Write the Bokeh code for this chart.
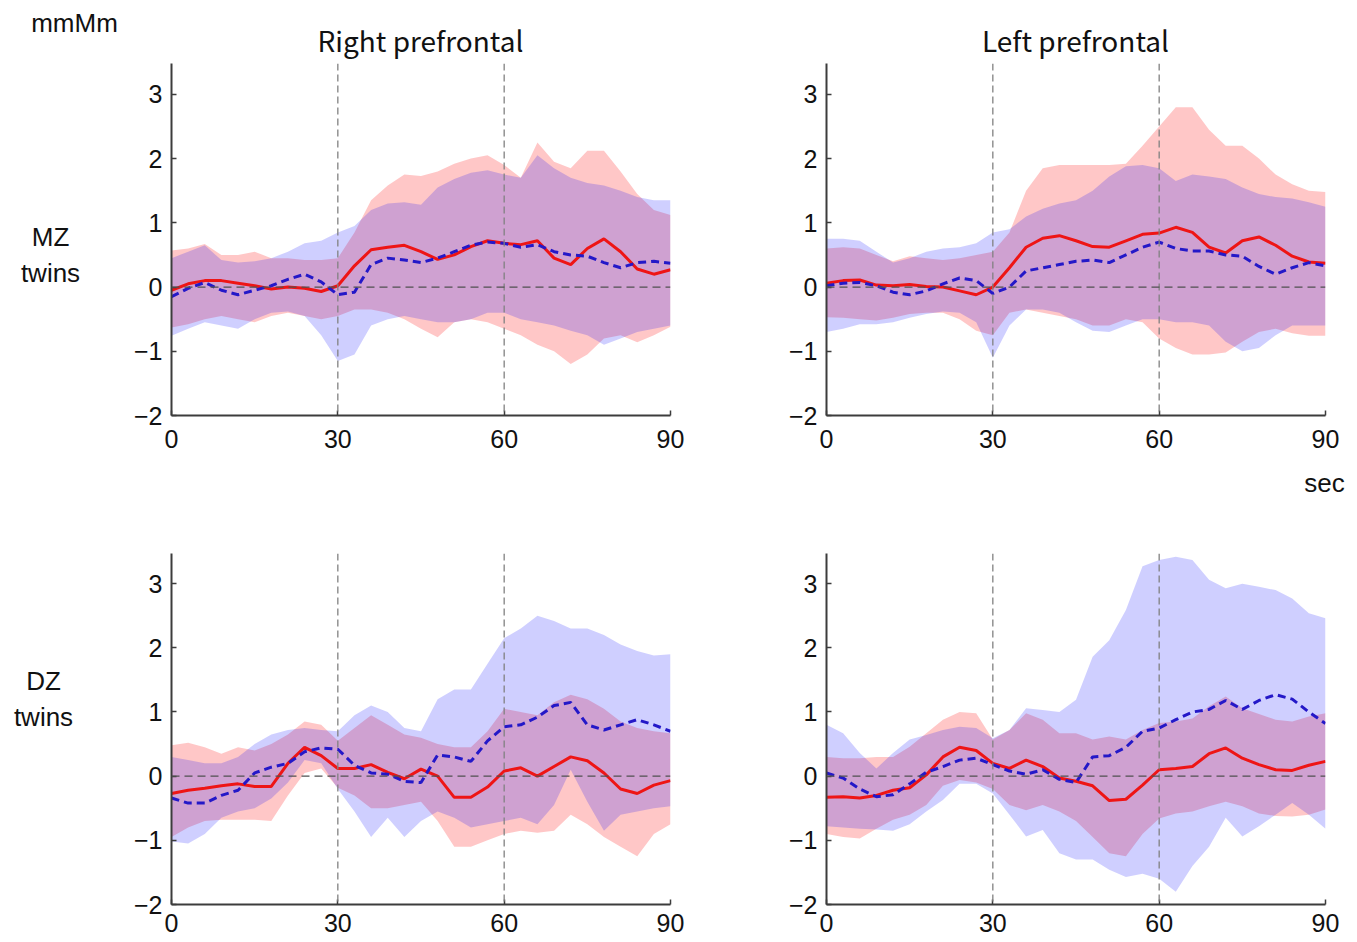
from bokeh.plotting import figure
from bokeh.layouts import column, row
from bokeh.models import Span, FixedTicker, Range1d
from bokeh.core.properties import value
from bokeh.embed import file_html
from bokeh.resources import INLINE

# time axis (seconds)
t = list(range(0, 91, 3))
x_ticks = [0, 30, 60, 90]
y_ticks = [-2, -1, 0, 1, 2, 3]
y_tick_labels = {-2: "\u22122", -1: "\u22121"}

col_titles = ["Right prefrontal", "Left prefrontal"]
row_titles = ["MZ\ntwins", "DZ\ntwins"]
unit_label = "mmMm"
time_label = "sec"

# ---- MZ twins, Right prefrontal ----
mz_r_red_mean = [-0.05, 0.05, 0.10, 0.10, 0.06, 0.02, -0.03, 0.00, -0.02, -0.07, 0.02, 0.33, 0.58, 0.62, 0.65, 0.55, 0.43, 0.50, 0.63, 0.72, 0.68, 0.66, 0.72, 0.45, 0.35, 0.60, 0.75, 0.55, 0.28, 0.20, 0.27]
mz_r_red_hi = [0.57, 0.60, 0.67, 0.50, 0.50, 0.55, 0.45, 0.45, 0.42, 0.42, 0.45, 0.85, 1.35, 1.58, 1.75, 1.73, 1.80, 1.92, 2.00, 2.05, 1.90, 1.70, 2.25, 1.95, 1.85, 2.12, 2.12, 1.80, 1.45, 1.20, 1.12]
mz_r_red_lo = [-0.63, -0.58, -0.50, -0.45, -0.50, -0.55, -0.45, -0.40, -0.45, -0.50, -0.45, -0.35, -0.35, -0.40, -0.50, -0.65, -0.78, -0.55, -0.50, -0.55, -0.65, -0.75, -0.90, -1.00, -1.20, -1.05, -0.80, -0.75, -0.86, -0.75, -0.62]
mz_r_blue_mean = [-0.15, -0.02, 0.07, -0.05, -0.12, -0.05, 0.02, 0.12, 0.20, 0.08, -0.12, -0.08, 0.35, 0.45, 0.42, 0.38, 0.45, 0.55, 0.65, 0.70, 0.68, 0.62, 0.66, 0.55, 0.50, 0.48, 0.38, 0.30, 0.38, 0.40, 0.37]
mz_r_blue_hi = [0.45, 0.55, 0.65, 0.42, 0.38, 0.40, 0.45, 0.55, 0.68, 0.72, 0.85, 0.95, 1.20, 1.30, 1.32, 1.28, 1.55, 1.68, 1.78, 1.82, 1.75, 1.70, 2.05, 1.85, 1.70, 1.62, 1.58, 1.50, 1.40, 1.35, 1.35]
mz_r_blue_lo = [-0.76, -0.65, -0.55, -0.60, -0.65, -0.50, -0.40, -0.38, -0.45, -0.75, -1.15, -1.05, -0.60, -0.50, -0.45, -0.50, -0.55, -0.55, -0.50, -0.40, -0.40, -0.50, -0.55, -0.60, -0.68, -0.75, -0.90, -0.80, -0.70, -0.65, -0.60]

# ---- MZ twins, Left prefrontal ----
mz_l_red_mean = [0.06, 0.10, 0.11, 0.03, 0.02, 0.04, 0.01, 0.00, -0.06, -0.12, 0.00, 0.30, 0.62, 0.76, 0.80, 0.72, 0.63, 0.62, 0.72, 0.82, 0.84, 0.93, 0.85, 0.62, 0.53, 0.72, 0.78, 0.65, 0.48, 0.39, 0.37]
mz_l_red_hi = [0.60, 0.62, 0.60, 0.50, 0.40, 0.48, 0.45, 0.42, 0.45, 0.50, 0.55, 0.85, 1.50, 1.85, 1.90, 1.90, 1.90, 1.90, 1.92, 2.20, 2.50, 2.80, 2.80, 2.45, 2.20, 2.20, 2.00, 1.75, 1.60, 1.50, 1.48]
mz_l_red_lo = [-0.47, -0.48, -0.50, -0.52, -0.48, -0.42, -0.40, -0.40, -0.50, -0.68, -0.75, -0.40, -0.35, -0.40, -0.45, -0.50, -0.60, -0.60, -0.50, -0.55, -0.80, -0.95, -1.05, -1.05, -1.02, -0.85, -0.70, -0.65, -0.72, -0.76, -0.76]
mz_l_blue_mean = [0.02, 0.06, 0.07, 0.02, -0.08, -0.12, -0.06, 0.05, 0.14, 0.10, -0.10, 0.00, 0.25, 0.30, 0.35, 0.40, 0.42, 0.38, 0.50, 0.62, 0.70, 0.60, 0.56, 0.56, 0.50, 0.48, 0.32, 0.20, 0.30, 0.38, 0.33]
mz_l_blue_hi = [0.75, 0.75, 0.72, 0.55, 0.38, 0.45, 0.55, 0.60, 0.62, 0.68, 0.85, 0.90, 1.10, 1.22, 1.30, 1.35, 1.50, 1.72, 1.88, 1.90, 1.85, 1.65, 1.75, 1.72, 1.68, 1.55, 1.45, 1.40, 1.38, 1.32, 1.25]
mz_l_blue_lo = [-0.70, -0.65, -0.58, -0.58, -0.55, -0.48, -0.42, -0.38, -0.40, -0.55, -1.10, -0.60, -0.35, -0.35, -0.40, -0.55, -0.68, -0.70, -0.60, -0.50, -0.50, -0.55, -0.55, -0.60, -0.85, -1.00, -0.95, -0.75, -0.60, -0.60, -0.60]

# ---- DZ twins, Right prefrontal ----
dz_r_red_mean = [-0.27, -0.22, -0.19, -0.15, -0.12, -0.16, -0.16, 0.20, 0.45, 0.32, 0.12, 0.12, 0.18, 0.06, -0.04, 0.11, 0.00, -0.33, -0.33, -0.17, 0.08, 0.13, 0.00, 0.15, 0.30, 0.24, 0.05, -0.20, -0.27, -0.14, -0.07]
dz_r_red_hi = [0.48, 0.52, 0.45, 0.35, 0.45, 0.40, 0.50, 0.65, 0.85, 0.80, 0.55, 0.75, 0.95, 0.80, 0.65, 0.60, 0.50, 0.45, 0.45, 0.70, 1.05, 1.00, 0.95, 1.15, 1.27, 1.20, 1.05, 0.85, 0.75, 0.70, 0.67]
dz_r_red_lo = [-0.95, -0.80, -0.70, -0.68, -0.68, -0.68, -0.70, -0.30, 0.05, 0.12, -0.18, -0.30, -0.50, -0.50, -0.45, -0.40, -0.70, -1.10, -1.10, -1.00, -0.90, -0.85, -0.88, -0.85, -0.60, -0.75, -0.95, -1.10, -1.25, -0.90, -0.75]
dz_r_blue_mean = [-0.34, -0.42, -0.42, -0.30, -0.22, 0.05, 0.14, 0.20, 0.38, 0.44, 0.42, 0.17, 0.05, 0.03, -0.08, -0.10, 0.33, 0.30, 0.23, 0.55, 0.77, 0.80, 0.92, 1.10, 1.15, 0.80, 0.72, 0.80, 0.88, 0.80, 0.70]
dz_r_blue_hi = [0.30, 0.25, 0.20, 0.20, 0.30, 0.50, 0.65, 0.72, 0.75, 0.72, 0.70, 0.95, 1.10, 1.00, 0.75, 0.70, 1.20, 1.35, 1.35, 1.75, 2.15, 2.30, 2.50, 2.42, 2.30, 2.30, 2.20, 2.05, 1.95, 1.88, 1.90]
dz_r_blue_lo = [-1.02, -1.05, -0.90, -0.65, -0.55, -0.50, -0.35, -0.10, 0.25, 0.20, -0.20, -0.55, -0.95, -0.65, -0.95, -0.70, -0.55, -0.65, -0.80, -0.75, -0.70, -0.65, -0.75, -0.45, 0.10, -0.40, -0.85, -0.60, -0.55, -0.50, -0.47]

# ---- DZ twins, Left prefrontal ----
dz_l_red_mean = [-0.33, -0.32, -0.34, -0.30, -0.22, -0.18, 0.02, 0.30, 0.45, 0.40, 0.20, 0.12, 0.25, 0.15, -0.03, -0.08, -0.15, -0.38, -0.36, -0.14, 0.10, 0.12, 0.15, 0.35, 0.44, 0.28, 0.18, 0.10, 0.09, 0.17, 0.23]
dz_l_red_hi = [0.30, 0.28, 0.28, 0.30, 0.30, 0.46, 0.67, 0.88, 1.00, 0.98, 0.57, 0.72, 0.98, 0.88, 0.67, 0.67, 0.57, 0.62, 0.57, 0.72, 0.83, 0.85, 0.90, 1.09, 1.24, 1.06, 0.97, 0.88, 0.85, 0.93, 0.98]
dz_l_red_lo = [-0.90, -0.95, -0.97, -0.82, -0.68, -0.60, -0.45, -0.15, -0.06, -0.10, -0.20, -0.45, -0.53, -0.45, -0.55, -0.70, -0.95, -1.20, -1.25, -0.90, -0.66, -0.58, -0.55, -0.47, -0.40, -0.47, -0.58, -0.62, -0.63, -0.60, -0.52]
dz_l_blue_mean = [0.05, -0.03, -0.20, -0.32, -0.29, -0.12, 0.06, 0.15, 0.25, 0.28, 0.18, 0.08, 0.03, 0.10, -0.05, -0.10, 0.30, 0.32, 0.45, 0.70, 0.75, 0.88, 1.00, 1.04, 1.18, 1.04, 1.18, 1.27, 1.20, 1.00, 0.82]
dz_l_blue_hi = [0.80, 0.67, 0.36, 0.12, 0.36, 0.57, 0.64, 0.72, 0.77, 0.75, 0.59, 0.72, 1.06, 1.03, 1.00, 1.19, 1.86, 2.12, 2.59, 3.27, 3.37, 3.42, 3.37, 3.06, 2.93, 3.00, 2.95, 2.90, 2.77, 2.54, 2.46]
dz_l_blue_lo = [-0.78, -0.80, -0.82, -0.83, -0.85, -0.75, -0.55, -0.37, -0.12, -0.12, -0.27, -0.60, -0.94, -0.84, -1.20, -1.30, -1.30, -1.46, -1.57, -1.52, -1.60, -1.80, -1.40, -1.10, -0.65, -0.94, -0.78, -0.60, -0.42, -0.60, -0.82]

RED = "#ff0000"
BLUE = "#0000ff"
RED_LINE = "#ee1515"
BLUE_LINE = "#2418c8"
TICK_FONT = "Liberation Sans"
TEXT_COLOR = "#111111"


def panel(data, width, height, bl, br, bt, bb, y_end, standoff):
    red_mean, red_lo, red_hi, blue_mean, blue_lo, blue_hi = data
    p = figure(width=width, height=height, x_range=Range1d(0, 90),
               y_range=Range1d(-2, y_end), output_backend="svg",
               toolbar_location=None, min_border_left=bl, min_border_right=br,
               min_border_top=bt, min_border_bottom=bb)
    p.grid.visible = False
    p.outline_line_color = None

    p.varea(x=t, y1=red_lo, y2=red_hi, fill_color=RED, fill_alpha=0.22)
    p.varea(x=t, y1=blue_lo, y2=blue_hi, fill_color=BLUE, fill_alpha=0.19)
    p.line(x=t, y=red_mean, line_color=RED_LINE, line_width=3)
    p.line(x=t, y=blue_mean, line_color=BLUE_LINE, line_width=3, line_dash="8 5")

    for loc in (30, 60):
        p.add_layout(Span(location=loc, dimension="height", line_color="#808080",
                          line_width=1.3, line_dash="7 4"))
    p.add_layout(Span(location=0, dimension="width", line_color="#505050",
                      line_width=1.2, line_dash="8 5"))

    for ax in (p.xaxis, p.yaxis):
        ax.axis_line_color = "#3c3c3c"
        ax.axis_line_width = 2
        ax.major_tick_line_color = "#3c3c3c"
        ax.major_tick_line_width = 1.5
        ax.major_tick_in = 5
        ax.major_tick_out = 0
        ax.minor_tick_line_color = None
        ax.major_label_text_font = TICK_FONT
        ax.major_label_text_font_size = "25px"
        ax.major_label_text_color = TEXT_COLOR
    p.xaxis.ticker = FixedTicker(ticks=x_ticks)
    p.yaxis.ticker = FixedTicker(ticks=y_ticks)
    p.yaxis.major_label_overrides = y_tick_labels
    p.yaxis.major_label_standoff = 9
    p.xaxis.major_label_standoff = standoff
    return p


def strip(width, height, x0, x1, y0, y1):
    # a plain text strip whose data units are page pixels
    s = figure(width=width, height=height, x_range=Range1d(x0, x1),
               y_range=Range1d(y1, y0), output_backend="svg",
               toolbar_location=None, x_axis_location=None, y_axis_location=None,
               min_border=0)
    s.grid.visible = False
    s.outline_line_color = None
    return s


# left strip: unit label and row titles (page x 0..130, y 0..941)
left = strip(130, 941, 0, 130, 0, 941)
left.text(x=[74], y=[22], text=[unit_label], text_align="center", text_baseline="middle",
          text_font=value("Liberation Sans"), text_font_size="26px", text_color=TEXT_COLOR)
left.text(x=[50, 43], y=[254, 698], text=row_titles, text_align="center",
          text_baseline="middle", text_line_height=1.2,
          text_font=value("Liberation Sans"), text_font_size="26px", text_color=TEXT_COLOR)

# top strip: column titles (page x 130..1349, y 0..62)
top = strip(1219, 62, 130, 1349, 0, 62)
top.text(x=[420, 1075], y=[39, 39], text=col_titles, text_align="center",
         text_baseline="middle", text_font=value("Noto Sans CJK JP"),
         text_font_size="28px", text_color=TEXT_COLOR)

# middle strip: time unit (page x 130..1349, y 465..500)
mid = strip(1219, 35, 130, 1349, 465, 500)
mid.text(x=[1324], y=[482], text=[time_label], text_align="center",
         text_baseline="middle", text_font=value("Liberation Sans"),
         text_font_size="26px", text_color=TEXT_COLOR)

tl = panel((mz_r_red_mean, mz_r_red_lo, mz_r_red_hi, mz_r_blue_mean, mz_r_blue_lo, mz_r_blue_hi),
           570, 403, 41, 30, 1, 50, 3.48, 14)
tr = panel((mz_l_red_mean, mz_l_red_lo, mz_l_red_hi, mz_l_blue_mean, mz_l_blue_lo, mz_l_blue_hi),
           649, 403, 126, 24, 1, 50, 3.48, 14)
bl = panel((dz_r_red_mean, dz_r_red_lo, dz_r_red_hi, dz_r_blue_mean, dz_r_blue_lo, dz_r_blue_hi),
           570, 441, 41, 30, 53, 37, 3.47, 9)
br = panel((dz_l_red_mean, dz_l_red_lo, dz_l_red_hi, dz_l_blue_mean, dz_l_blue_lo, dz_l_blue_hi),
           649, 441, 126, 24, 53, 37, 3.47, 9)

layout = row(left, column(top, row(tl, tr), mid, row(bl, br)))

open("out.html", "w").write(file_html(layout, INLINE))
